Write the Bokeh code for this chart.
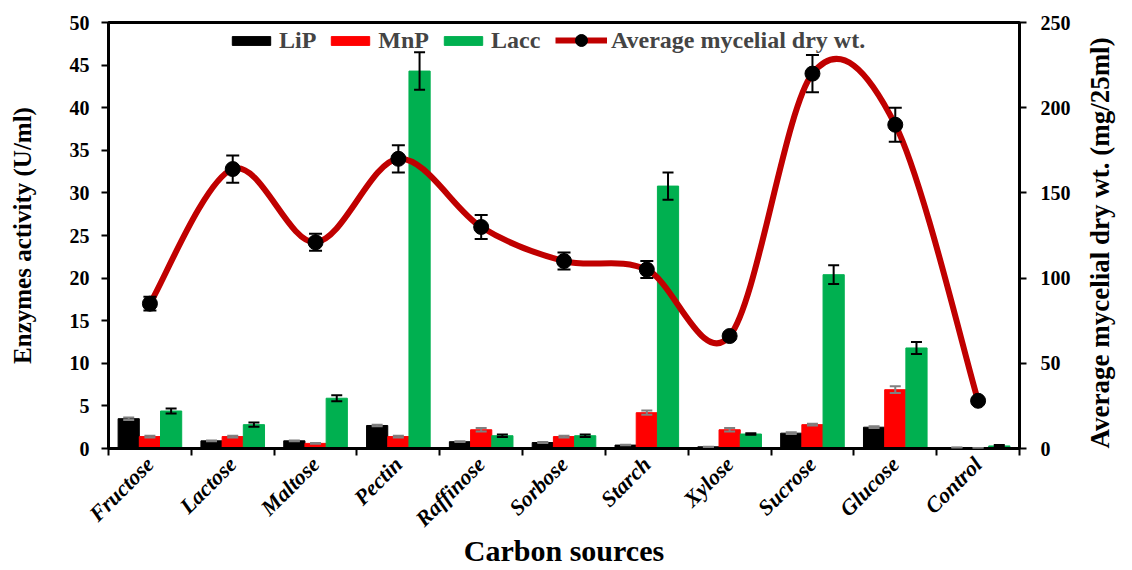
import math
from bokeh.plotting import figure
from bokeh.models import (Range1d, LinearAxis, FixedTicker, CustomJSTickFormatter,
                          ColumnDataSource, Whisker, TeeHead, Legend, LegendItem)
from bokeh.embed import file_html
from bokeh.resources import INLINE

categories = ["Fructose", "Lactose", "Maltose", "Pectin", "Raffinose", "Sorbose",
              "Starch", "Xylose", "Sucrose", "Glucose", "Control"]
lip = [3.5, 0.9, 0.9, 2.7, 0.8, 0.7, 0.4, 0.2, 1.8, 2.5, 0.1]
lip_err = [0.15, 0.05, 0.05, 0.1, 0.05, 0.05, 0.03, 0.02, 0.1, 0.1, 0.02]
mnp = [1.4, 1.4, 0.6, 1.4, 2.2, 1.4, 4.2, 2.2, 2.8, 6.9, 0.05]
mnp_err = [0.1, 0.1, 0.05, 0.1, 0.2, 0.1, 0.25, 0.2, 0.1, 0.4, 0.02]
lacc = [4.4, 2.8, 5.9, 44.3, 1.5, 1.5, 30.8, 1.7, 20.4, 11.8, 0.3]
lacc_err = [0.3, 0.25, 0.35, 2.2, 0.15, 0.15, 1.6, 0.1, 1.1, 0.7, 0.1]
dry_wt = [85, 164, 121, 170, 130, 110, 105, 66, 220, 190, 28]
dry_err = [4, 8, 5, 8, 7, 5, 5, 2, 11, 10, 1]
left_ticks = [0, 5, 10, 15, 20, 25, 30, 35, 40, 45, 50]
right_ticks = [0, 50, 100, 150, 200, 250]

FONT = "Liberation Serif"
n = len(categories)
centers = [i + 0.5 for i in range(n)]
bw = 0.256

p = figure(width=1132, height=570, output_backend="svg", toolbar_location=None,
           x_range=Range1d(0, n), y_range=Range1d(0, 50),
           min_border_left=108, min_border_right=109, min_border_top=22,
           min_border_bottom=121)
p.extra_y_ranges = {"right": Range1d(0, 250)}
p.xaxis.visible = False
p.yaxis.visible = False
p.xgrid.visible = False
p.ygrid.visible = False
p.outline_line_color = "black"
p.outline_line_width = 3
p.background_fill_color = "white"
p.border_fill_color = "white"

def style_axis(ax, size="20px"):
    ax.axis_line_width = 3
    ax.axis_line_color = "black"
    ax.major_tick_line_width = 2
    ax.major_tick_in = 0
    ax.major_tick_out = 7
    ax.minor_tick_line_color = None
    ax.major_label_text_font = FONT
    ax.major_label_text_font_style = "bold"
    ax.major_label_text_font_size = size
    ax.major_label_text_color = "black"
    ax.major_label_standoff = 12
    ax.axis_label_text_font = FONT
    ax.axis_label_text_font_style = "bold"
    ax.axis_label_text_color = "black"

yl = LinearAxis(ticker=FixedTicker(ticks=left_ticks), axis_label="Enzymes activity (U/ml)")
style_axis(yl)
yl.axis_label_text_font_size = "25px"
yl.axis_label_standoff = 31
p.add_layout(yl, "left")

yr = LinearAxis(y_range_name="right", ticker=FixedTicker(ticks=right_ticks),
                axis_label="Average mycelial dry wt. (mg/25ml)")
style_axis(yr)
yr.major_label_standoff = 14
yr.axis_label_text_font_size = "27px"
yr.axis_label_standoff = 26
yr.axis_label_orientation = math.pi / 2
yr.axis_label_align = "start"
p.add_layout(yr, "right")

xb = LinearAxis(ticker=FixedTicker(ticks=centers, minor_ticks=list(range(n + 1))),
                axis_label="Carbon sources",
                formatter=CustomJSTickFormatter(args=dict(names=categories),
                    code="const i = Math.round(tick - 0.5); return (i >= 0 && i < names.length) ? names[i] : '';"))
style_axis(xb, "22px")
xb.major_tick_out = 0
xb.minor_tick_out = 7
xb.minor_tick_in = 0
xb.minor_tick_line_color = "black"
xb.minor_tick_line_width = 2
xb.major_label_text_font_style = "bold italic"
xb.major_label_orientation = math.pi / 4
xb.major_label_standoff = 5
xb.axis_label_text_font_size = "30px"
xb.axis_label_standoff = -9
p.add_layout(xb, "below")

series = [(lip, lip_err, "black", "#808080", -bw, "LiP"),
          (mnp, mnp_err, "#FF0000", "#808080", 0.0, "MnP"),
          (lacc, lacc_err, "#00B050", "black", bw, "Lacc")]
items = []
for vals, errs, col, ecol, off, name in series:
    xs = [c + off for c in centers]
    src = ColumnDataSource(dict(x=xs, top=vals,
                                upper=[v + e for v, e in zip(vals, errs)],
                                lower=[v - e for v, e in zip(vals, errs)]))
    r = p.vbar(x="x", top="top", width=bw, source=src, fill_color=col, line_color=col)
    w = Whisker(source=src, base="x", upper="upper", lower="lower",
                line_color=ecol, line_width=2, level="annotation",
                upper_head=TeeHead(size=11, line_color=ecol, line_width=2),
                lower_head=TeeHead(size=11, line_color=ecol, line_width=2))
    p.add_layout(w)
    items.append(LegendItem(label=name, renderers=[r]))

# smooth line through the mycelial dry weight points (Catmull-Rom style bezier)
px = centers
py = dry_wt
x0, y0, x1, y1, cx0, cy0, cx1, cy1 = [], [], [], [], [], [], [], []
for i in range(n - 1):
    pm = i - 1 if i > 0 else i
    pp = i + 2 if i + 2 < n else i + 1
    x0.append(px[i]); y0.append(py[i]); x1.append(px[i + 1]); y1.append(py[i + 1])
    cx0.append(px[i] + (px[i + 1] - px[pm]) / 6)
    cy0.append(py[i] + (py[i + 1] - py[pm]) / 6)
    cx1.append(px[i + 1] - (px[pp] - px[i]) / 6)
    cy1.append(py[i + 1] - (py[pp] - py[i]) / 6)
bez = p.bezier(x0=x0, y0=y0, x1=x1, y1=y1, cx0=cx0, cy0=cy0, cx1=cx1, cy1=cy1,
               line_color="#C00000", line_width=6, y_range_name="right")
dsrc = ColumnDataSource(dict(x=px, y=py,
                             upper=[v + e for v, e in zip(py, dry_err)],
                             lower=[v - e for v, e in zip(py, dry_err)]))
wl = Whisker(source=dsrc, base="x", upper="upper", lower="lower", y_range_name="right",
             line_color="black", line_width=2, level="annotation",
             upper_head=TeeHead(size=13, line_color="black", line_width=2),
             lower_head=TeeHead(size=13, line_color="black", line_width=2))
p.add_layout(wl)
sc = p.scatter(x="x", y="y", source=dsrc, size=15, fill_color="black", line_color="black",
               y_range_name="right")

leg_style = dict(orientation="horizontal", label_text_font=FONT, label_text_font_style="bold",
                 label_text_font_size="24px", label_standoff=4, spacing=10,
                 padding=0, margin=0, border_line_color=None, background_fill_alpha=0)
legend = Legend(items=items, location=(119, 394), glyph_width=48, glyph_height=11,
                label_height=20, **leg_style)
p.add_layout(legend)
legend2 = Legend(items=[LegendItem(label="Average mycelial dry wt.", renderers=[bez, sc])],
                 location=(447, 393), glyph_width=52, glyph_height=30, label_height=30,
                 **leg_style)
p.add_layout(legend2)

open("out.html", "w").write(file_html(p, INLINE))
